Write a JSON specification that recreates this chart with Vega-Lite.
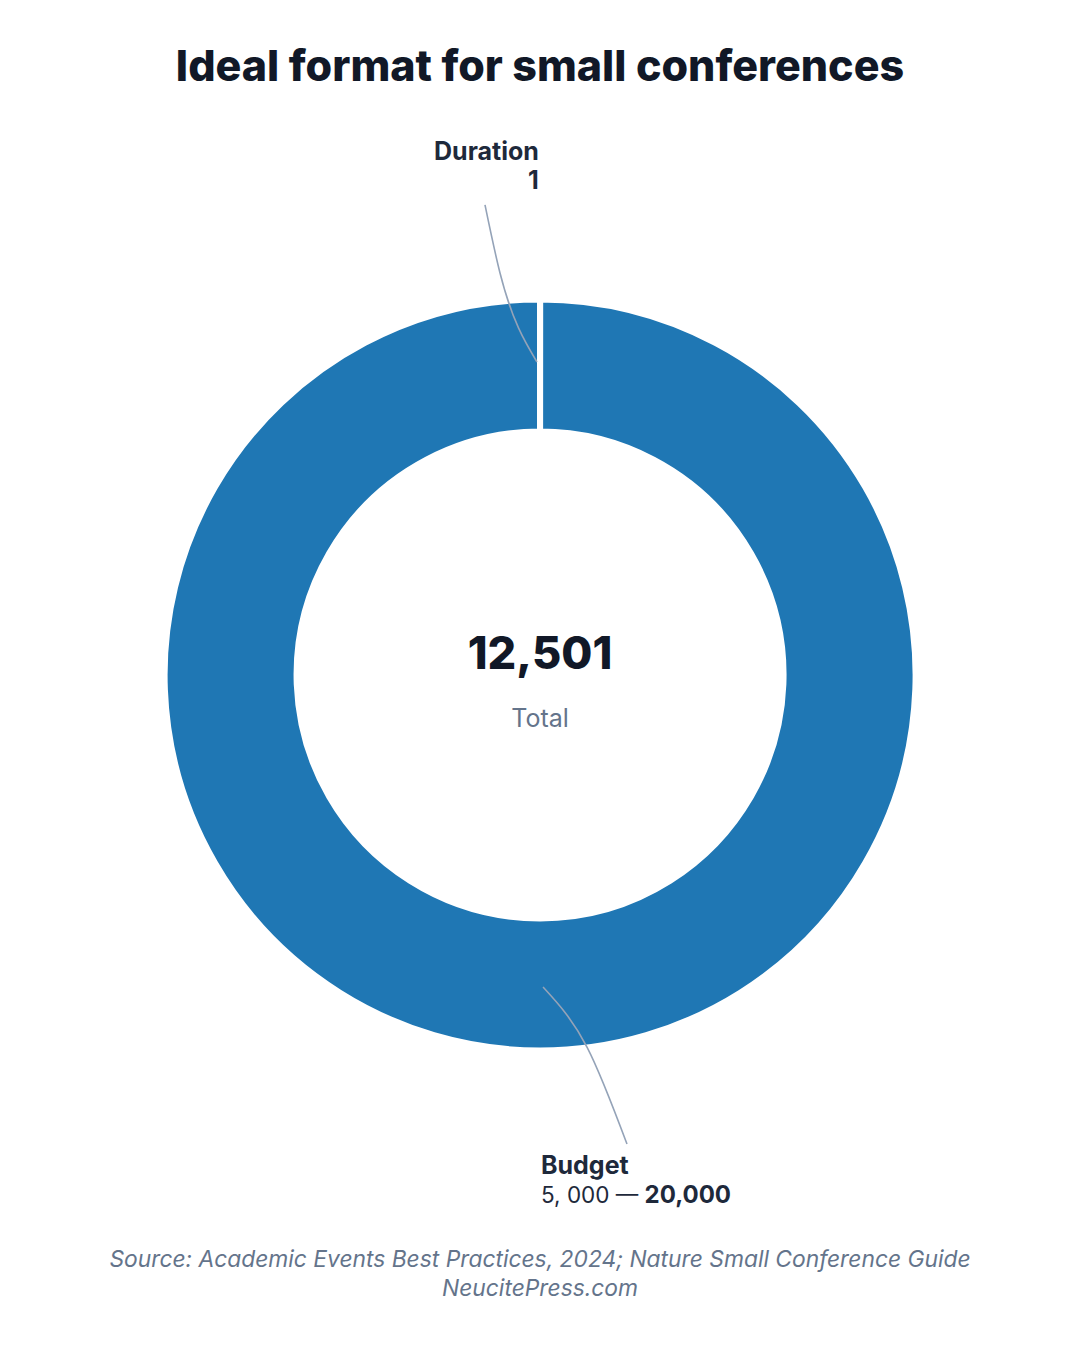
{
  "$schema": "https://vega.github.io/schema/vega-lite/v6.json",
  "autosize": "none",
  "padding": {"top": 94, "bottom": 94, "left": 0, "right": 0},
  "width": 1080,
  "height": 1162,
  "background": "white",
  "title": {
    "text": "Ideal format for small conferences",
    "anchor": "middle",
    "frame": "group",
    "baseline": "alphabetic",
    "offset": -30,
    "font": "Inter",
    "fontSize": 43,
    "fontWeight": 800,
    "color": "#111827"
  },
  "datasets": {
    "slices": [
      {"category": "Duration", "value": 1, "rank": 1},
      {"category": "Budget", "value": 12500, "rank": 2}
    ],
    "leaders": [
      {"label": "Duration", "i": 1, "x": -0.1477, "y": 1.2621},
      {"label": "Duration", "i": 2, "x": -0.1074, "y": 1.0795},
      {"label": "Duration", "i": 3, "x": -0.0081, "y": 0.8405},
      {"label": "Budget", "i": 1, "x": 0.0081, "y": -0.8378},
      {"label": "Budget", "i": 2, "x": 0.1262, "y": -0.9989},
      {"label": "Budget", "i": 3, "x": 0.2336, "y": -1.2594}
    ],
    "rightLabels": [
      {"text": "Duration", "x": -0.003, "y": 1.383},
      {"text": "1", "x": -0.003, "y": 1.305}
    ],
    "boldLeft": [
      {"text": "Budget", "x": 0.0027, "y": -1.34}
    ],
    "boldRight": [
      {"text": "20,000", "x": 0.5129, "y": -1.418}
    ],
    "plainLabels": [
      {"text": "5, 000 \u2014", "x": 0.0027, "y": -1.418}
    ],
    "footer": [
      {"text": "Source: Academic Events Best Practices, 2024; Nature Small Conference Guide", "x": 0, "y": -1.5897},
      {"text": "NeucitePress.com", "x": 0, "y": -1.6676}
    ]
  },
  "layer": [
    {
      "data": {"name": "slices"},
      "mark": {
        "type": "arc",
        "outerRadius": 375.5,
        "innerRadius": 243.5,
        "stroke": "white",
        "strokeWidth": 6,
        "color": "#1f77b4"
      },
      "encoding": {
        "theta": {"field": "value", "type": "quantitative", "stack": true},
        "order": {"field": "rank", "type": "quantitative"}
      }
    },
    {
      "data": {"name": "leaders"},
      "mark": {"type": "line", "interpolate": "monotone", "color": "#94a3b8", "strokeWidth": 1.6},
      "encoding": {
        "x": {"field": "x", "type": "quantitative", "scale": {"domain": [-1.45, 1.45]}, "axis": null},
        "y": {"field": "y", "type": "quantitative", "scale": {"domain": [-1.56, 1.56]}, "axis": null},
        "detail": {"field": "label"},
        "order": {"field": "i", "type": "quantitative"}
      }
    },
    {
      "data": {"name": "rightLabels"},
      "mark": {"type": "text", "font": "Inter", "fontSize": 25, "fontWeight": "bold", "color": "#1e293b", "baseline": "alphabetic", "align": "right"},
      "encoding": {
        "x": {"field": "x", "type": "quantitative", "scale": {"domain": [-1.45, 1.45]}, "axis": null},
        "y": {"field": "y", "type": "quantitative", "scale": {"domain": [-1.56, 1.56]}, "axis": null},
        "text": {"field": "text"}
      }
    },
    {
      "data": {"name": "boldLeft"},
      "mark": {"type": "text", "font": "Inter", "fontSize": 25, "fontWeight": "bold", "color": "#1e293b", "baseline": "alphabetic", "align": "left"},
      "encoding": {
        "x": {"field": "x", "type": "quantitative", "scale": {"domain": [-1.45, 1.45]}, "axis": null},
        "y": {"field": "y", "type": "quantitative", "scale": {"domain": [-1.56, 1.56]}, "axis": null},
        "text": {"field": "text"}
      }
    },
    {
      "data": {"name": "boldRight"},
      "mark": {"type": "text", "font": "Inter", "fontSize": 24, "fontWeight": "bold", "color": "#1e293b", "baseline": "alphabetic", "align": "right"},
      "encoding": {
        "x": {"field": "x", "type": "quantitative", "scale": {"domain": [-1.45, 1.45]}, "axis": null},
        "y": {"field": "y", "type": "quantitative", "scale": {"domain": [-1.56, 1.56]}, "axis": null},
        "text": {"field": "text"}
      }
    },
    {
      "data": {"name": "plainLabels"},
      "mark": {"type": "text", "font": "Inter", "fontSize": 22.5, "color": "#1e293b", "baseline": "alphabetic", "align": "left"},
      "encoding": {
        "x": {"field": "x", "type": "quantitative", "scale": {"domain": [-1.45, 1.45]}, "axis": null},
        "y": {"field": "y", "type": "quantitative", "scale": {"domain": [-1.56, 1.56]}, "axis": null},
        "text": {"field": "text"}
      }
    },
    {
      "data": {"name": "slices"},
      "transform": [{"aggregate": [{"op": "sum", "field": "value", "as": "total"}]}],
      "mark": {"type": "text", "font": "Inter", "fontSize": 45, "fontWeight": 800, "color": "#111827", "baseline": "alphabetic", "dy": -6},
      "encoding": {
        "text": {"field": "total", "type": "quantitative", "format": ","}
      }
    },
    {
      "data": {"values": [{"text": "Total"}]},
      "mark": {"type": "text", "font": "Inter", "fontSize": 25, "color": "#64748b", "baseline": "alphabetic", "dy": 52},
      "encoding": {
        "text": {"field": "text"}
      }
    },
    {
      "data": {"name": "footer"},
      "mark": {"type": "text", "font": "Inter", "fontSize": 22.8, "fontStyle": "italic", "color": "#64748b", "baseline": "alphabetic", "align": "center"},
      "encoding": {
        "x": {"field": "x", "type": "quantitative", "scale": {"domain": [-1.45, 1.45]}, "axis": null},
        "y": {"field": "y", "type": "quantitative", "scale": {"domain": [-1.56, 1.56]}, "axis": null},
        "text": {"field": "text"}
      }
    }
  ],
  "config": {"view": {"stroke": null}}
}
